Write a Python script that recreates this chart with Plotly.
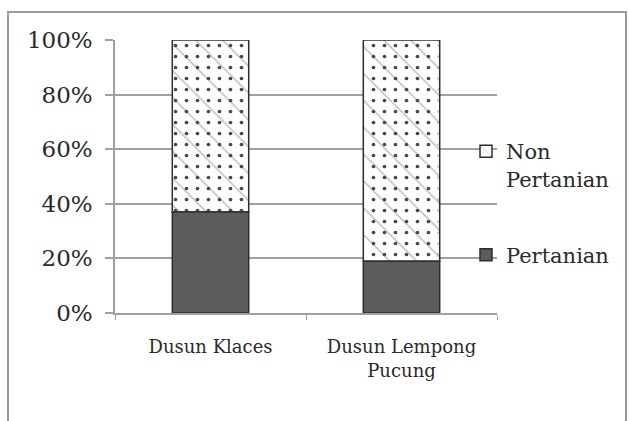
import plotly.graph_objects as go

# Share of households by occupation in each hamlet (percent)
categories = ["Dusun Klaces", "Dusun Lempong<br>Pucung"]
pertanian = [37, 19]
non_pertanian = [63, 81]
y_ticks = [0, 20, 40, 60, 80, 100]
y_tick_labels = ["0%", "20%", "40%", "60%", "80%", "100%"]

W, H = 629, 421
L, R, T, B = 115, 132, 40, 108

fig = go.Figure()

# upper segment: hatched non-farming share, stacked on the farming share
fig.add_trace(go.Bar(
    name="Non<br>Pertanian",
    legendgroup="n",
    x=categories,
    y=non_pertanian,
    base=pertanian,
    marker=dict(
        color="white",
        line=dict(color="#2e2e2e", width=1.5),
        pattern=dict(shape="\\", fgcolor="#6a6a6a", bgcolor="white",
                     size=19, solidity=0.07),
    ),
    width=0.4,
))

# fine speckle texture laid over the hatched segment
fig.add_trace(go.Bar(
    name="speckle",
    legendgroup="n",
    x=categories,
    y=non_pertanian,
    base=pertanian,
    marker=dict(
        color="#555555",
        line=dict(width=0),
        pattern=dict(shape=".", fgcolor="#4a4a4a", bgcolor="rgba(0,0,0,0)",
                     size=11, solidity=0.09, fillmode="replace"),
    ),
    width=0.385,
    showlegend=False,
    hoverinfo="skip",
))

# lower segment: farming share
fig.add_trace(go.Bar(
    name="Pertanian",
    legendgroup="p",
    x=categories,
    y=pertanian,
    base=[0, 0],
    marker=dict(color="#5c5c5c", line=dict(color="#2e2e2e", width=1.5)),
    width=0.4,
))

grid = "#a0a0a0"
fig.update_layout(
    width=W, height=H,
    margin=dict(l=L, r=R, t=T, b=B),
    paper_bgcolor="white",
    plot_bgcolor="white",
    barmode="overlay",
    font=dict(family="DejaVu Serif", color="#2a2a2a"),
    legend=dict(
        x=(466 - L) / (W - L - R), xanchor="left",
        y=1 - (131 - T) / (H - T - B), yanchor="top",
        traceorder="grouped",
        valign="top",
        font=dict(size=21, family="DejaVu Serif", color="#2a2a2a"),
        bgcolor="rgba(0,0,0,0)",
        itemwidth=30,
        tracegroupgap=46,
    ),
    showlegend=True,
    xaxis=dict(
        showgrid=False,
        showline=True, linecolor=grid, linewidth=1.5,
        ticks="outside", tickson="boundaries", ticklen=5,
        tickcolor=grid, tickwidth=1,
        tickfont=dict(size=18, family="DejaVu Serif", color="#2a2a2a"),
        ticklabelstandoff=17,
    ),
    yaxis=dict(
        range=[0, 100],
        tickvals=y_ticks, ticktext=y_tick_labels,
        showgrid=True, gridcolor=grid, gridwidth=1.5,
        showline=True, linecolor=grid, linewidth=1.5,
        ticks="outside", ticklen=8, tickcolor=grid, tickwidth=1.5,
        tickfont=dict(size=23, family="DejaVu Serif", color="#2a2a2a"),
        ticklabelstandoff=8,
        zeroline=False,
    ),
)

# outer chart frame
pw, ph = W - L - R, H - T - B
fig.add_shape(
    type="rect", xref="paper", yref="paper",
    x0=(8 - L) / pw, x1=(626 - L) / pw,
    y0=1 - (440 - T) / ph, y1=1 - (12 - T) / ph,
    line=dict(color="#9a9a9a", width=2), fillcolor="rgba(0,0,0,0)",
    layer="below",
)

fig.write_html("out.html")
